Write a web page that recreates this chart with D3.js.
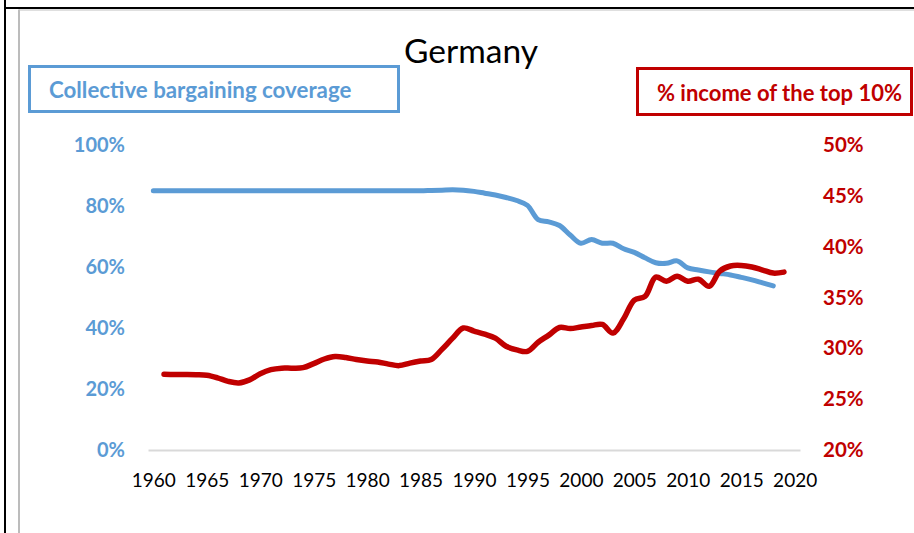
<!DOCTYPE html>
<html>
<head>
<meta charset="utf-8">
<script src="https://cdn.jsdelivr.net/npm/d3@7"></script>
<style>
  body { margin: 0; background: #fff; }
  text { font-family: Lato, "Open Sans", sans-serif; }
</style>
</head>
<body>
<div id="chart"></div>
<script>
var width = 914,
    height = 533;

// years on the category axis
var years = d3.range(1960, 2021);
var tickYears = [1960, 1965, 1970, 1975, 1980, 1985, 1990, 1995, 2000, 2005, 2010, 2015, 2020];

// collective bargaining coverage (%), 1960-2018
var coverageYears = d3.range(1960, 2019);
var coverage = [
  85, 85, 85, 85, 85, 85, 85, 85, 85, 85,
  85, 85, 85, 85, 85, 85, 85, 85, 85, 85,
  85, 85, 85, 85, 85, 85, 85.1, 85.2, 85.3, 85.2,
  84.8, 84.2, 83.6, 82.8, 81.8, 80.2, 75.5, 74.8, 73.6, 70.5,
  67.8, 69.0, 67.8, 67.8, 66.0, 64.8, 63.0, 61.4, 61.2, 62.0,
  59.7, 59.0, 58.4, 57.9, 57.4, 56.6, 55.8, 54.8, 53.8
];

// share of income of the top 10% (%), 1961-2019
var top10Years = d3.range(1961, 2020);
var top10 = [
  27.45, 27.43, 27.42, 27.4, 27.35, 27.1, 26.75, 26.6, 26.9,
  27.5, 27.9, 28.05, 28.05, 28.1, 28.5, 28.95, 29.2, 29.1, 28.9,
  28.75, 28.65, 28.45, 28.3, 28.55, 28.75, 28.9, 29.9, 31.0, 32.0,
  31.7, 31.4, 31.0, 30.2, 29.85, 29.7, 30.6, 31.3, 32.05, 31.95,
  32.1, 32.25, 32.35, 31.5, 32.9, 34.75, 35.1, 37.0, 36.6, 37.1,
  36.6, 36.8, 36.1, 37.6, 38.1, 38.15, 38.0, 37.7, 37.4, 37.5
];

var leftTicks = [0, 20, 40, 60, 80, 100];
var rightTicks = [20, 25, 30, 35, 40, 45, 50];

var blue = "#5B9BD5",
    red = "#C00000";

var svg = d3.select("#chart")
  .append("svg")
    .attr("width", width)
    .attr("height", height);

// outer black frame and the grey chart border
svg.append("line").attr("x1", 5).attr("x2", 5).attr("y1", 0).attr("y2", height)
  .attr("stroke", "#000").attr("stroke-width", 2);
svg.append("line").attr("x1", 4).attr("x2", width).attr("y1", 8).attr("y2", 8)
  .attr("stroke", "#000").attr("stroke-width", 2);
svg.append("line").attr("x1", 19).attr("x2", 19).attr("y1", 9.5).attr("y2", height)
  .attr("stroke", "#A6A6A6").attr("stroke-width", 1.5);
svg.append("line").attr("x1", 19).attr("x2", width).attr("y1", 10).attr("y2", 10)
  .attr("stroke", "#BFBFBF").attr("stroke-width", 1);

// scales
var x = d3.scaleLinear()
  .domain([years[0] - 0.5, years[years.length - 1] + 0.5])
  .range([148, 800]);

var yLeft = d3.scaleLinear().domain([0, 100]).range([450, 145]);
var yRight = d3.scaleLinear().domain([20, 50]).range([450, 145]);

// x axis
var xAxis = svg.append("g")
  .attr("transform", "translate(0,450)")
  .call(d3.axisBottom(x)
    .tickValues(tickYears)
    .tickSize(0)
    .tickSizeOuter(0)
    .tickPadding(31)
    .tickFormat(d3.format("d")));
xAxis.select(".domain").attr("stroke", "#D9D9D9").attr("stroke-width", 2);
xAxis.selectAll("text")
  .attr("dy", "0.32em")
  .style("font-size", "19px")
  .style("font-family", "Lato, sans-serif")
  .attr("fill", "#000");

// left axis
var leftAxis = svg.append("g")
  .attr("transform", "translate(125,0)")
  .call(d3.axisLeft(yLeft)
    .tickValues(leftTicks)
    .tickSize(0)
    .tickPadding(0)
    .tickFormat(function(d) { return d + "%"; }));
leftAxis.select(".domain").remove();
leftAxis.selectAll("text")
  .style("font-size", "20px")
  .style("font-weight", "bold")
  .style("font-family", "Lato, sans-serif")
  .attr("fill", blue);

// right axis
var rightAxis = svg.append("g")
  .attr("transform", "translate(823,0)")
  .call(d3.axisRight(yRight)
    .tickValues(rightTicks)
    .tickSize(0)
    .tickPadding(0)
    .tickFormat(function(d) { return d + "%"; }));
rightAxis.select(".domain").remove();
rightAxis.selectAll("text")
  .style("font-size", "20.5px")
  .style("font-weight", "bold")
  .style("font-family", "Lato, sans-serif")
  .attr("fill", red);

// lines
var lineLeft = d3.line()
  .x(function(d) { return x(d[0]); })
  .y(function(d) { return yLeft(d[1]); })
  .curve(d3.curveCatmullRom.alpha(0.5));

var lineRight = d3.line()
  .x(function(d) { return x(d[0]); })
  .y(function(d) { return yRight(d[1]); })
  .curve(d3.curveCatmullRom.alpha(0.5));

svg.append("path")
  .datum(d3.zip(coverageYears, coverage))
  .attr("d", lineLeft)
  .attr("fill", "none")
  .attr("stroke", blue)
  .attr("stroke-width", 5)
  .attr("stroke-linecap", "round")
  .attr("stroke-linejoin", "round");

svg.append("path")
  .datum(d3.zip(top10Years, top10))
  .attr("d", lineRight)
  .attr("fill", "none")
  .attr("stroke", red)
  .attr("stroke-width", 5.5)
  .attr("stroke-linecap", "round")
  .attr("stroke-linejoin", "round");

// title
svg.append("text")
  .attr("x", 471)
  .attr("y", 63)
  .attr("text-anchor", "middle")
  .style("font-size", "33.5px")
  .style("font-family", "Lato, sans-serif")
  .attr("fill", "#000")
  .text("Germany");

// legend boxes
svg.append("rect")
  .attr("x", 29.5).attr("y", 66.5)
  .attr("width", 369).attr("height", 45)
  .attr("fill", "none")
  .attr("stroke", blue)
  .attr("stroke-width", 3);
svg.append("text")
  .attr("x", 49).attr("y", 90)
  .attr("dy", "0.35em")
  .style("font-size", "22.3px")
  .style("font-weight", "bold")
  .attr("fill", blue)
  .text("Collective bargaining coverage");

svg.append("rect")
  .attr("x", 637.5).attr("y", 68.5)
  .attr("width", 274).attr("height", 46)
  .attr("fill", "none")
  .attr("stroke", red)
  .attr("stroke-width", 3);
svg.append("text")
  .attr("x", 657).attr("y", 93)
  .attr("dy", "0.35em")
  .style("font-size", "22px")
  .style("font-weight", "bold")
  .attr("fill", red)
  .text("% income of the top 10%");
</script>
</body>
</html>
